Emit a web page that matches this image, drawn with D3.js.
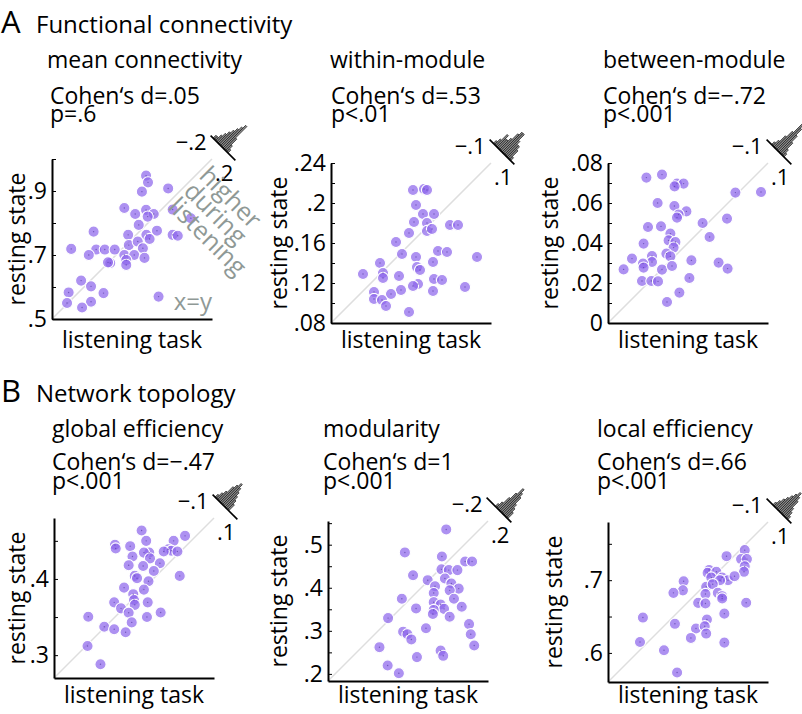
<!DOCTYPE html>
<html><head><meta charset="utf-8">
<script src="https://cdn.jsdelivr.net/npm/d3@7"></script>
<style>
body{margin:0;background:#fff}
svg{display:block}
text{font-family:'Open Sans',sans-serif}
</style>
</head><body>
<svg id="chart" width="802" height="714"></svg>
<script>
// ---------- DATA ----------
const sectionLetters = ["A", "B"];
const sectionTitles = ["Functional connectivity", "Network topology"];
const panelTitles = ["mean connectivity", "within-module", "between-module", "global efficiency", "modularity", "local efficiency"];
const cohenLabels = ["Cohen‘s d=.05", "Cohen‘s d=.53", "Cohen‘s d=−.72", "Cohen‘s d=−.47", "Cohen‘s d=1", "Cohen‘s d=.66"];
const pLabels = ["p=.6", "p<.01", "p<.001", "p<.001", "p<.001", "p<.001"];
const xAxisLabel = "listening task";
const yAxisLabel = "resting state";

// mean connectivity
const meanConnListening = [0.794,0.800,0.781,0.863,0.726,0.760,0.794,0.818,0.799,0.877,0.934,0.771,0.630,0.738,0.828,0.877,0.893,0.795,0.805,0.740,0.768,0.784,0.560,0.638,0.665,0.696,0.615,0.726,0.757,0.682,0.675,0.732,0.732,0.789,0.591,0.622,0.661,0.552,0.547,0.622,0.594,0.833];
const meanConnResting   = [0.948,0.927,0.898,0.908,0.847,0.828,0.841,0.828,0.820,0.842,0.815,0.794,0.773,0.763,0.776,0.763,0.760,0.763,0.750,0.731,0.742,0.721,0.719,0.717,0.717,0.717,0.700,0.700,0.700,0.675,0.677,0.684,0.669,0.691,0.620,0.602,0.581,0.583,0.550,0.554,0.536,0.570];
const meanConnDomain = [0.5, 1.0];
const meanConnTicks = [0.5,0.6,0.7,0.8,0.9,1.0];
const meanConnTickLabels = [0.5,0.7,0.9];
const meanConnHistStarts = [-0.16,-0.14,-0.12,-0.10,-0.08,-0.06,-0.04,-0.02,0,0.02,0.04,0.06];
const meanConnHistCounts = [1,1,2,3,4,5,6,7,8,4,2,1];
const meanConnHistWidth = 0.02, meanConnHistRange = 0.2;

// within-module
const withinListening = [0.162,0.173,0.176,0.165,0.172,0.183,0.163,0.176,0.199,0.207,0.158,0.176,0.181,0.145,0.151,0.165,0.187,0.196,0.226,0.129,0.182,0.166,0.169,0.112,0.132,0.132,0.148,0.183,0.191,0.167,0.162,0.214,0.150,0.182,0.123,0.140,0.123,0.131,0.135,0.158];
const withinResting   = [0.213,0.214,0.213,0.198,0.189,0.189,0.181,0.180,0.178,0.178,0.170,0.172,0.174,0.161,0.149,0.146,0.152,0.151,0.146,0.140,0.141,0.136,0.133,0.129,0.130,0.125,0.127,0.124,0.123,0.119,0.117,0.116,0.113,0.112,0.111,0.109,0.104,0.103,0.097,0.091];
const withinDomain = [0.08, 0.24];
const withinTicks = [0.08,0.10,0.12,0.14,0.16,0.18,0.20,0.22,0.24];
const withinTickLabels = [0.08,0.12,0.16,0.20,0.24];
const withinHistStarts = [-0.07,-0.06,-0.05,-0.04,-0.03,-0.02,-0.01,0,0.01,0.02,0.03,0.04,0.05,0.06];
const withinHistCounts = [1,2,4,3,3,4,6,7,7,5,4,4,3,1];
const withinHistWidth = 0.01, withinHistRange = 0.1;

// between-module
const betweenListening = [0.0192,0.027,0.0345,0.0378,0.0333,0.0637,0.0765,0.0248,0.0332,0.0392,0.0353,0.0345,0.0595,0.0473,0.020,0.0265,0.0508,0.0312,0.0303,0.0337,0.0178,0.0328,0.0292,0.0312,0.022,0.012,0.0417,0.022,0.0175,0.0178,0.0553,0.0598,0.0078,0.027,0.032,0.0407,0.017,0.0217,0.025,0.0357,0.0295];
const betweenResting   = [0.0727,0.0742,0.0697,0.0697,0.0683,0.0652,0.0655,0.060,0.0585,0.0558,0.0542,0.0527,0.0522,0.050,0.048,0.0483,0.043,0.0447,0.0413,0.0405,0.0397,0.0377,0.0347,0.0333,0.0335,0.0322,0.0313,0.0305,0.0297,0.0277,0.0302,0.0272,0.0268,0.0267,0.0285,0.0225,0.021,0.021,0.0208,0.0152,0.0105];
const betweenDomain = [0, 0.08];
const betweenTicks = [0,0.01,0.02,0.03,0.04,0.05,0.06,0.07,0.08];
const betweenTickLabels = [0,0.02,0.04,0.06,0.08];
const betweenHistStarts = [-0.06,-0.05,-0.04,-0.03,-0.02,-0.01,0,0.01,0.02,0.03];
const betweenHistCounts = [1,2,4,6,9,8,6,4,2,1];
const betweenHistWidth = 0.01, betweenHistRange = 0.1;

// global efficiency
const globalEffListening = [0.385,0.442,0.391,0.427,0.350,0.351,0.370,0.420,0.424,0.432,0.414,0.395,0.388,0.373,0.396,0.409,0.368,0.387,0.401,0.435,0.376,0.379,0.394,0.388,0.362,0.374,0.375,0.376,0.393,0.349,0.358,0.368,0.410,0.392,0.315,0.372,0.336,0.349,0.364,0.314,0.331];
const globalEffResting   = [0.4636,0.4566,0.450,0.450,0.4447,0.440,0.443,0.439,0.437,0.436,0.436,0.4346,0.4346,0.4294,0.427,0.4206,0.418,0.417,0.4105,0.404,0.404,0.401,0.397,0.386,0.3886,0.380,0.3724,0.366,0.3693,0.3693,0.3614,0.3557,0.356,0.350,0.3504,0.343,0.3373,0.334,0.330,0.312,0.288];
const globalEffDomain = [0.27, 0.48];
const globalEffTicks = [0.30,0.35,0.40,0.45];
const globalEffTickLabels = [0.30,0.40];
const globalEffHistStarts = [-0.08,-0.07,-0.06,-0.05,-0.04,-0.03,-0.02,-0.01,0,0.01,0.02];
const globalEffHistCounts = [1,2,3,5,6,7,6,5,4,3,2];
const globalEffHistWidth = 0.01, globalEffHistRange = 0.1;

// modularity
const modularityListening = [0.458,0.362,0.448,0.502,0.518,0.381,0.447,0.464,0.484,0.415,0.455,0.432,0.470,0.487,0.466,0.429,0.355,0.476,0.429,0.388,0.445,0.453,0.429,0.494,0.427,0.466,0.323,0.511,0.411,0.358,0.368,0.377,0.515,0.523,0.303,0.390,0.445,0.451,0.322,0.348];
const modularityResting   = [0.5354,0.482,0.4726,0.461,0.461,0.429,0.4427,0.441,0.441,0.4176,0.4215,0.4035,0.410,0.398,0.394,0.3877,0.3744,0.3744,0.3665,0.352,0.361,0.351,0.3485,0.356,0.339,0.3328,0.3296,0.3155,0.306,0.298,0.292,0.280,0.292,0.266,0.262,0.239,0.254,0.242,0.2196,0.2016];
const modularityDomain = [0.1835, 0.555];
const modularityTicks = [0.20,0.25,0.30,0.35,0.40,0.45,0.50,0.55];
const modularityTickLabels = [0.20,0.30,0.40,0.50];
const modularityHistStarts = [-0.06,-0.04,-0.02,0,0.02,0.04,0.06,0.08,0.10,0.12];
const modularityHistCounts = [1,2,4,6,8,7,6,4,3,2];
const modularityHistWidth = 0.02, modularityHistRange = 0.2;

// local efficiency
const localEffListening = [0.748,0.723,0.743,0.751,0.748,0.747,0.699,0.697,0.709,0.702,0.717,0.725,0.734,0.714,0.664,0.695,0.704,0.663,0.650,0.711,0.694,0.717,0.717,0.684,0.694,0.750,0.720,0.608,0.652,0.696,0.681,0.693,0.695,0.674,0.720,0.604,0.637,0.655];
const localEffResting   = [0.7413,0.733,0.729,0.729,0.719,0.7115,0.714,0.710,0.7115,0.7037,0.7037,0.700,0.7055,0.700,0.6986,0.691,0.6945,0.686,0.6826,0.6826,0.681,0.678,0.6748,0.6688,0.668,0.669,0.654,0.6486,0.640,0.6459,0.6335,0.6367,0.6266,0.6206,0.6142,0.615,0.6037,0.573];
const localEffDomain = [0.56, 0.78];
const localEffTicks = [0.60,0.65,0.70,0.75];
const localEffTickLabels = [0.60,0.70];
const localEffHistStarts = [-0.05,-0.04,-0.03,-0.02,-0.01,0,0.01,0.02,0.03,0.04,0.05,0.06];
const localEffHistCounts = [1,2,3,4,5,6,7,6,5,3,2,1];
const localEffHistWidth = 0.01, localEffHistRange = 0.1;

const histTickLabels = [["−.2",".2"],["−.1",".1"],["−.1",".1"],["−.1",".1"],["−.2",".2"],["−.1",".1"]];
const diagonalNote = ["higher", "during", "listening"];
const identityNote = "x=y";

// ---------- ASSEMBLY ----------
const panelData = [
  {xs: meanConnListening, ys: meanConnResting, domain: meanConnDomain, ticks: meanConnTicks, tickLabels: meanConnTickLabels, hs: meanConnHistStarts, hc: meanConnHistCounts, hw: meanConnHistWidth, hr: meanConnHistRange},
  {xs: withinListening, ys: withinResting, domain: withinDomain, ticks: withinTicks, tickLabels: withinTickLabels, hs: withinHistStarts, hc: withinHistCounts, hw: withinHistWidth, hr: withinHistRange},
  {xs: betweenListening, ys: betweenResting, domain: betweenDomain, ticks: betweenTicks, tickLabels: betweenTickLabels, hs: betweenHistStarts, hc: betweenHistCounts, hw: betweenHistWidth, hr: betweenHistRange},
  {xs: globalEffListening, ys: globalEffResting, domain: globalEffDomain, ticks: globalEffTicks, tickLabels: globalEffTickLabels, hs: globalEffHistStarts, hc: globalEffHistCounts, hw: globalEffHistWidth, hr: globalEffHistRange},
  {xs: modularityListening, ys: modularityResting, domain: modularityDomain, ticks: modularityTicks, tickLabels: modularityTickLabels, hs: modularityHistStarts, hc: modularityHistCounts, hw: modularityHistWidth, hr: modularityHistRange},
  {xs: localEffListening, ys: localEffResting, domain: localEffDomain, ticks: localEffTicks, tickLabels: localEffTickLabels, hs: localEffHistStarts, hc: localEffHistCounts, hw: localEffHistWidth, hr: localEffHistRange}
];

// layout (positions only)
const layout = [
  {left: 52, top: 159, titleX: 47, statX: 50, yLabX: 25},
  {left: 331, top: 163, titleX: 330, statX: 331, yLabX: 287},
  {left: 608, top: 163, titleX: 603, statX: 603, yLabX: 558},
  {left: 54, top: 518, titleX: 52, statX: 52, yLabX: 25},
  {left: 328, top: 521, titleX: 323, statX: 323, yLabX: 287},
  {left: 608, top: 522, titleX: 597, statX: 597, yLabX: 562}
];
const rowBase = [{sec: 33, title: 68, cohen: 104, p: 122, xLab: 348}, {sec: 402, title: 437, cohen: 470, p: 489, xLab: 703}];
const plotW = 160, plotH = 160;
const FS = 23;
const gray = "#8f9996";
const ptFill = "#8e66eb";

const svg = d3.select("#chart");

sectionLetters.forEach((L, i) => {
  svg.append("text").attr("x", 1).attr("y", rowBase[i].sec).attr("font-size", 31).text(L);
  svg.append("text").attr("x", 36).attr("y", rowBase[i].sec).attr("font-size", 24).text(sectionTitles[i]);
});

const fmt = v => v === 0 ? "0" : String(+v.toFixed(3)).replace(/^0\./, ".");

panelData.forEach((pd, i) => {
  const lo = layout[i];
  const rb = rowBase[Math.floor(i / 3)];
  svg.append("text").attr("x", lo.titleX).attr("y", rb.title).attr("font-size", FS).text(panelTitles[i]);
  svg.append("text").attr("x", lo.statX).attr("y", rb.cohen).attr("font-size", FS).text(cohenLabels[i]);
  svg.append("text").attr("x", lo.statX).attr("y", rb.p).attr("font-size", FS).text(pLabels[i]);

  const x = d3.scaleLinear().domain(pd.domain).range([lo.left, lo.left + plotW]);
  const y = d3.scaleLinear().domain(pd.domain).range([lo.top + plotH, lo.top]);

  // diagonal x=y
  svg.append("line")
    .attr("x1", x(pd.domain[0])).attr("y1", y(pd.domain[0]))
    .attr("x2", x(pd.domain[1])).attr("y2", y(pd.domain[1]))
    .attr("stroke", "#dedede").attr("stroke-width", 1.5);

  // points
  const pts = pd.xs.map((v, k) => [v, pd.ys[k]]);
  const g = svg.append("g");
  g.selectAll("circle.pt").data(pts).join("circle").attr("class", "pt")
    .attr("cx", d => x(d[0])).attr("cy", d => y(d[1])).attr("r", 5.6)
    .attr("fill", ptFill).attr("fill-opacity", 0.72)
    .attr("stroke", "#fff").attr("stroke-width", 1.1);
  g.selectAll("circle.dot").data(pts).join("circle").attr("class", "dot")
    .attr("cx", d => x(d[0])).attr("cy", d => y(d[1])).attr("r", 0.7)
    .attr("fill", "#5a3ea6").attr("fill-opacity", 0.7);

  // axes
  const labelSet = new Set(pd.tickLabels);
  const yAx = svg.append("g").attr("transform", `translate(${lo.left},0)`)
    .call(d3.axisLeft(y).tickValues(pd.ticks).tickSize(-4).tickSizeOuter(0).tickPadding(5)
      .tickFormat(d => labelSet.has(d) ? fmt(d) : ""));
  yAx.attr("font-size", FS).attr("font-family", "'Open Sans',sans-serif");
  yAx.select(".domain").attr("stroke", "#000").attr("stroke-width", 2);
  yAx.selectAll(".tick line").attr("stroke", "#000").attr("stroke-width", 1);
  yAx.selectAll(".tick text").attr("fill", "#000");

  const xAx = svg.append("g").attr("transform", `translate(0,${lo.top + plotH})`)
    .call(d3.axisBottom(x).tickValues([]).tickSizeOuter(0));
  xAx.select(".domain").attr("stroke", "#000").attr("stroke-width", 2);

  // axis labels
  svg.append("text").attr("x", lo.left + plotW / 2).attr("y", rb.xLab)
    .attr("text-anchor", "middle").attr("font-size", FS).text(xAxisLabel);
  svg.append("text").attr("transform", `translate(${lo.yLabX},${lo.top + plotH / 2}) rotate(-90)`)
    .attr("text-anchor", "middle").attr("font-size", FS).text(yAxisLabel);

  // rotated histogram of differences
  const cx = x(pd.domain[1]) + 11, cy = y(pd.domain[1]) - 11;
  const half = 17.5;
  const hu = d3.scaleLinear().domain([-pd.hr, pd.hr]).range([-half, half]);
  const kH = 4;
  const hg = svg.append("g").attr("transform", `translate(${cx},${cy}) rotate(45)`);
  hg.selectAll("rect").data(pd.hs.map((s, k) => [s, pd.hc[k]])).join("rect")
    .attr("x", d => hu(d[0])).attr("width", d => hu(d[0] + pd.hw) - hu(d[0]))
    .attr("y", d => -d[1] * kH).attr("height", d => d[1] * kH)
    .attr("fill", "#8a8a8a").attr("stroke", "#1a1a1a").attr("stroke-width", 0.7);
  hg.append("line").attr("x1", hu(-pd.hr)).attr("x2", hu(pd.hr)).attr("y1", 0).attr("y2", 0)
    .attr("stroke", "#000").attr("stroke-width", 1.6);
  const d45 = half * Math.SQRT1_2;
  svg.append("text").attr("x", cx - d45 - 4).attr("y", cy - d45 + 14)
    .attr("text-anchor", "end").attr("font-size", 22).text(histTickLabels[i][0]);
  svg.append("text").attr("x", cx + d45 - 2).attr("y", cy + d45 + 21)
    .attr("text-anchor", "end").attr("font-size", 22).text(histTickLabels[i][1]);

  if (i === 0) {
    svg.append("text").attr("x", lo.left + plotW).attr("y", lo.top + plotH - 9)
      .attr("text-anchor", "end").attr("font-size", 24).attr("fill", gray).text(identityNote);
    const hg2 = svg.append("g").attr("transform", `translate(198,177) rotate(45)`);
    diagonalNote.forEach((w, k) => {
      hg2.append("text").attr("x", 0).attr("y", k * 22).attr("font-size", 25).attr("fill", gray).text(w);
    });
  }
});
</script>
</body></html>
